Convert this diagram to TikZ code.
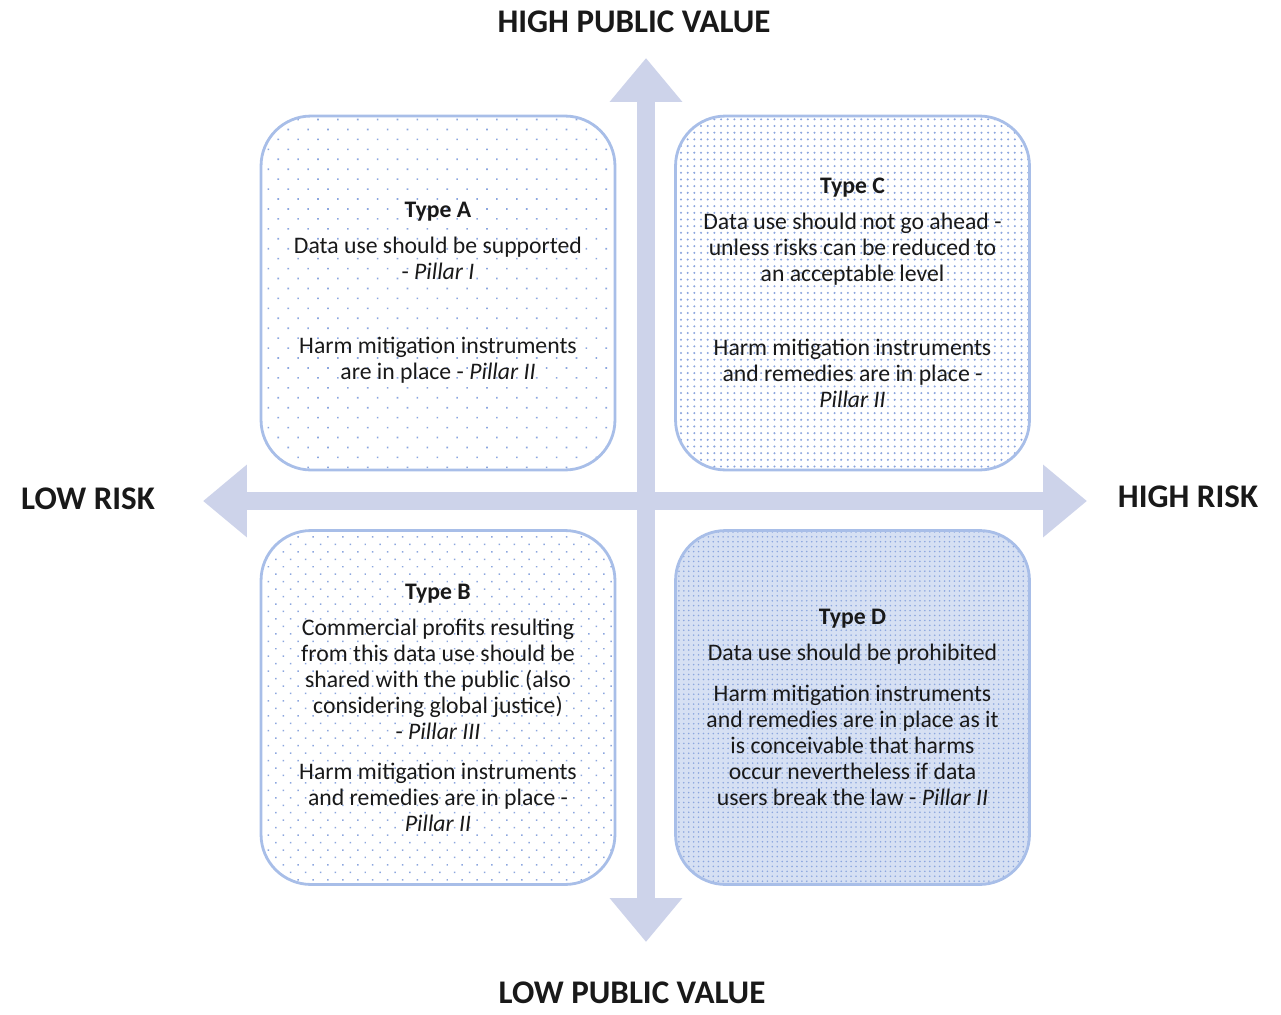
\documentclass[tikz,border=0pt]{standalone}
\usepackage{fontspec}
\setmainfont{Carlito}
\usepackage{tikz}
\usetikzlibrary{arrows.meta,patterns.meta}
\usepackage{xcolor}
\definecolor{qAxis}{RGB}{205,211,234}
\definecolor{qBorder}{RGB}{168,190,232}
\definecolor{qDots}{RGB}{140,166,222}
\definecolor{qFill}{RGB}{214,224,243}
\definecolor{qText}{RGB}{25,25,25}

\tikzset{
    % rounded quadrant boxes, size fixed, text set in the middle
    quadrant/.style={draw=qBorder,line width=1.6pt,rounded corners=1cm,minimum width=7.08cm,minimum height=7.08cm,align=center,text=qText,pattern color=qDots,font=\fontsize{13.5pt}{14.8pt}\selectfont},
    % thick double arrows for the two axes
    axis/.style={line width=0.36cm,qAxis,{Triangle[width=1.4cm,length=0.88cm]}-{Triangle[width=1.4cm,length=0.88cm]}},
    axislabel/.style={font=\bfseries\fontsize{18.8pt}{20pt}\selectfont,text=qText,inner sep=1pt}
}

\begin{document}
\begin{tikzpicture}[x=0.02cm,y=-0.02cm,
    sparse/.style={pattern={Dots[radius=0.65pt,distance=8pt,angle=45]}},
    medium/.style={pattern={Dots[radius=0.6pt,distance=6pt,angle=45]}},
    dense/.style={pattern={Dots[radius=0.65pt,distance=3.8pt]}},
    solid/.style={preaction={fill=qFill},pattern={Dots[radius=0.5pt,distance=2.8pt]}}
]
  \useasboundingbox (0,0) rectangle (1281,1014);

  % axis end points
  \coordinate (top) at (646,58);
  \coordinate (bottom) at (646,942);
  \coordinate (left) at (203,501);
  \coordinate (right) at (1087,501);

  \draw[axis] (left) -- (right);
  \draw[axis] (bottom) -- (top);

  % axis labels
  \node[axislabel] (hpv) at (634,22) {HIGH PUBLIC VALUE};
  \node[axislabel] (lpv) at (632,993) {LOW PUBLIC VALUE};
  \node[axislabel] (lrisk) at (88,499) {LOW RISK};
  \node[axislabel] (hrisk) at (1188,497) {HIGH RISK};

  % the four quadrants
  \node[quadrant,sparse] (typeA) at (438,293) {\textbf{Type A}\\[0.2cm]
    Data use should be supported\\ - \textit{Pillar I}\\[0.96cm]
    Harm mitigation instruments\\ are in place - \textit{Pillar II}};
  \node[quadrant,dense] (typeC) at (852.5,293) {\textbf{Type C}\\[0.2cm]
    Data use should not go ahead -\\ unless risks can be reduced to\\ an acceptable level\\[0.96cm]
    Harm mitigation instruments\\ and remedies are in place -\\ \textit{Pillar II}};
  \node[quadrant,medium] (typeB) at (438,707.5) {\textbf{Type B}\\[0.2cm]
    Commercial profits resulting\\ from this data use should be\\ shared with the public (also\\ considering global justice)\\ - \textit{Pillar III}\\[0.28cm]
    Harm mitigation instruments\\ and remedies are in place -\\ \textit{Pillar II}};
  \node[quadrant,solid] (typeD) at (852.5,707.5) {\textbf{Type D}\\[0.2cm]
    Data use should be prohibited\\[0.3cm]
    Harm mitigation instruments\\ and remedies are in place as it\\ is conceivable that harms\\ occur nevertheless if data\\ users break the law - \textit{Pillar II}};
\end{tikzpicture}
\end{document}
